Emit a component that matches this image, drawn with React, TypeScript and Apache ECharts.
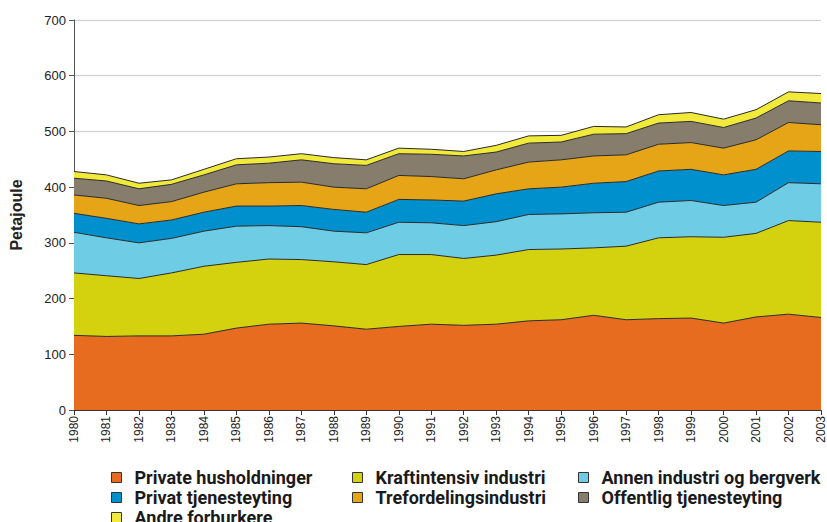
import React, { useEffect, useRef } from "react";
import * as echarts from "echarts";

const years = ["1980","1981","1982","1983","1984","1985","1986","1987","1988","1989","1990","1991","1992","1993","1994","1995","1996","1997","1998","1999","2000","2001","2002","2003"];

const privateHusholdninger = [134,132,133,133,136,147,154,156,151,145,150,154,152,154,160,162,170,162,164,165,156,167,172,166];
const kraftintensivIndustri = [112,109,103,113,122,118,117,114,115,116,129,125,120,124,128,127,121,132,145,146,154,150,168,171];
const annenIndustri = [73,68,64,62,63,65,60,59,55,57,58,57,59,60,63,63,63,61,64,65,57,56,68,69];
const privatTjenesteyting = [34,35,34,33,34,36,35,38,39,37,41,41,44,50,46,48,53,55,56,56,55,59,57,58];
const trefordelingsindustri = [33,36,33,33,36,40,42,42,40,42,43,42,40,43,48,49,49,48,48,48,48,53,51,48];
const offentligTjenesteyting = [30,31,30,31,31,34,35,40,42,42,39,40,41,32,34,32,39,38,38,38,37,39,39,39];
const andreForburkere = [12,11,10,8,10,11,11,11,11,10,10,9,8,12,13,12,14,12,15,16,15,15,16,17];

const seriesDefs = [
  { name: "Private husholdninger", data: privateHusholdninger, color: "#E86C1F" },
  { name: "Kraftintensiv industri", data: kraftintensivIndustri, color: "#D4D10E" },
  { name: "Annen industri og bergverk", data: annenIndustri, color: "#6ECDE4" },
  { name: "Privat tjenesteyting", data: privatTjenesteyting, color: "#0090CD" },
  { name: "Trefordelingsindustri", data: trefordelingsindustri, color: "#E6A517" },
  { name: "Offentlig tjenesteyting", data: offentligTjenesteyting, color: "#877D6C" },
  { name: "Andre forburkere", data: andreForburkere, color: "#F2EA3A" },
];

const legendCols = [
  { left: 111, names: ["Private husholdninger", "Privat tjenesteyting", "Andre forburkere"] },
  { left: 352, names: ["Kraftintensiv industri", "Trefordelingsindustri"] },
  { left: 578, names: ["Annen industri og bergverk", "Offentlig tjenesteyting"] },
];

const legendFont = "Roboto, 'Liberation Sans', sans-serif";

export default function App() {
  const ref = useRef<HTMLDivElement>(null);
  useEffect(() => {
    if (!ref.current) return;
    const chart = echarts.init(ref.current, null, { renderer: "svg" });
    chart.setOption({
      animation: false,
      backgroundColor: "#ffffff",
      grid: { left: 74, right: 5, top: 20, bottom: 112, containLabel: false },
      legend: legendCols.map((c) => ({
        orient: "vertical",
        left: c.left,
        top: 468,
        height: 80,
        itemWidth: 10,
        itemHeight: 10,
        itemGap: 1,
        icon: "rect",
        padding: 0,
        data: c.names,
        itemStyle: { borderColor: "#333", borderWidth: 1 },
        textStyle: {
          fontFamily: legendFont,
          fontWeight: "bold",
          fontSize: 18,
          lineHeight: 19,
          color: "#1a1a1a",
          padding: [0, 0, 0, 8],
        },
      })),
      xAxis: {
        type: "category",
        data: years,
        boundaryGap: false,
        axisLine: { lineStyle: { color: "#333" } },
        axisTick: { show: true, length: 5, lineStyle: { color: "#333" } },
        axisLabel: {
          rotate: 90,
          interval: 0,
          fontSize: 12,
          color: "#222",
          margin: 6,
          fontFamily: "'Liberation Sans', sans-serif",
        },
      },
      yAxis: {
        type: "value",
        min: 0,
        max: 700,
        interval: 100,
        name: "Petajoule",
        nameLocation: "middle",
        nameGap: 50,
        nameTextStyle: {
          fontWeight: "bold",
          fontSize: 16,
          color: "#222",
          fontFamily: "'Liberation Sans', sans-serif",
        },
        axisLine: { show: true, lineStyle: { color: "#555" } },
        axisTick: { show: true, length: 5, lineStyle: { color: "#555" } },
        axisLabel: {
          fontSize: 13,
          color: "#222",
          margin: 8,
          fontFamily: "'Liberation Sans', sans-serif",
        },
        splitLine: { lineStyle: { color: "#cfcfcf" } },
      },
      series: seriesDefs.map((s) => ({
        name: s.name,
        type: "line",
        stack: "total",
        data: s.data,
        symbol: "none",
        showSymbol: false,
        itemStyle: { color: s.color },
        lineStyle: { color: "#2a2a2a", width: 1 },
        areaStyle: { color: s.color, opacity: 1 },
      })),
    });
    return () => chart.dispose();
  }, []);
  return (
    <div
      ref={ref}
      style={{ position: "fixed", left: 0, top: 0, width: 827, height: 522 }}
    />
  );
}
